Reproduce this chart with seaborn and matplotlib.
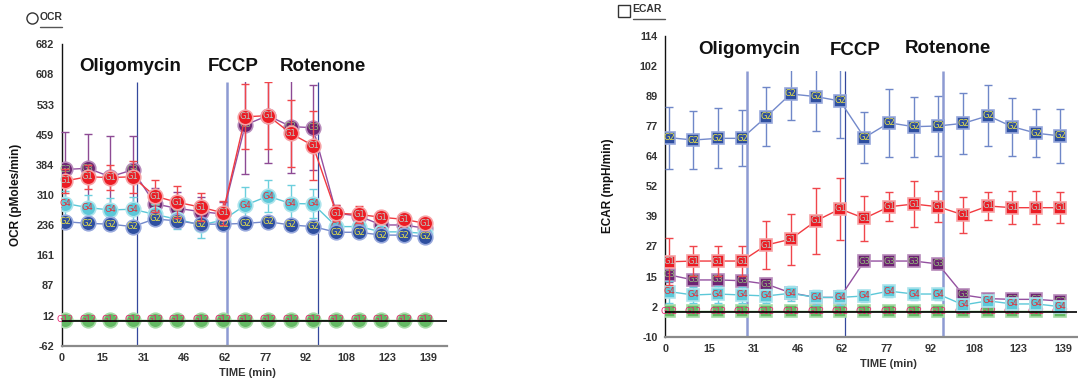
import numpy as np
import pandas as pd
import matplotlib
matplotlib.use("Agg")
import matplotlib.pyplot as plt
from matplotlib.patches import Rectangle
from matplotlib.lines import Line2D
import seaborn as sns

# measurement times (min), shared by both panels
time = [1.3, 9.8, 18.3, 26.8, 35.3, 43.8, 52.7, 61.1, 69.6, 78.2, 86.9, 95.3,
        104.2, 112.8, 121.3, 129.7, 138.0]
injections = ["Oligomycin", "FCCP", "Rotenone"]
injection_times = [28.6, 62.8, 97.2]

x_ticks = [0, 15, 31, 46, 62, 77, 92, 108, 123, 139]
ocr_ticks = [-62, 12, 87, 161, 236, 310, 384, 459, 533, 608, 682]
ecar_ticks = [-10, 2, 15, 27, 39, 52, 64, 77, 89, 102, 114]

groups = ["G12", "G3", "G4", "G2", "G1"]

# OCR (pMoles/min)
ocr_g1 = [345, 355, 353, 355, 307, 292, 280, 266, 503, 506, 462, 432, 265, 262, 255, 250, 240]
ocr_g2 = [244, 240, 238, 232, 251, 246, 238, 238, 240, 244, 236, 232, 218, 218, 211, 211, 207]
ocr_g3 = [373, 376, 355, 372, 288, 277, 269, 263, 483, 506, 479, 476, 265, 258, 236, 236, 228]
ocr_g4 = [289, 279, 273, 275, 262, 250, 236, 248, 285, 307, 289, 288, 232, 232, 219, 219, 215]
ocr_g12 = [2, 2, 2, 2, 2, 2, 2, 2, 2, 2, 2, 2, 2, 2, 2, 2, 2]
ocr_g1_err = [30, 30, 30, 40, 40, 40, 35, 30, 80, 83, 82, 85, 20, 20, 15, 12, 10]
ocr_g2_err = [15, 15, 14, 15, 12, 12, 12, 12, 14, 14, 13, 13, 10, 10, 10, 10, 10]
ocr_g3_err = [93, 85, 100, 83, 40, 40, 35, 30, 122, 118, 115, 105, 20, 18, 15, 15, 15]
ocr_g4_err = [30, 30, 30, 30, 25, 25, 32, 25, 45, 40, 45, 36, 12, 12, 10, 10, 10]
ocr_g12_err = [3] * 17

# ECAR (mpH/min)
ecar_g1 = [20.9, 21.2, 21.2, 21.2, 27.8, 30.2, 37.8, 42.7, 38.8, 43.6, 44.7, 43.6, 40.2, 43.9, 43.2, 43.2, 43.2]
ecar_g2 = [72.1, 71.1, 71.8, 71.8, 80.7, 90.1, 89.0, 87.2, 72.1, 78.2, 76.6, 76.9, 78.0, 81.1, 76.6, 73.9, 72.8]
ecar_g3 = [15.5, 13.4, 13.4, 13.1, 11.7, 8.1, 6.2, 6.2, 21.2, 21.2, 21.2, 20.0, 7.2, 5.7, 5.4, 5.4, 4.7]
ecar_g4 = [8.6, 7.2, 7.6, 7.2, 6.8, 7.9, 6.2, 6.2, 6.8, 8.8, 7.6, 7.6, 3.1, 4.8, 3.5, 3.5, 2.4]
ecar_g12 = [0.4] * 17
ecar_g1_err = [9.7, 6.3, 6.3, 6.0, 9.8, 10.6, 13.5, 12.9, 9.3, 6.0, 9.5, 6.4, 7.4, 5.9, 6.9, 6.8, 6.5]
ecar_g2_err = [12.8, 12.0, 12.4, 11.6, 12.2, 10.6, 14.0, 15.4, 10.5, 14.0, 12.4, 12.3, 12.5, 12.5, 12.0, 10.0, 11.0]
ecar_g3_err = [3, 2.5, 2.5, 2.5, 2.5, 2.5, 2.5, 2.5, 2, 2, 2, 2, 1.5, 1.5, 1.5, 1.5, 1.5]
ecar_g4_err = [4.5, 3.5, 3.5, 3.5, 3, 3, 3, 3, 2.5, 2.5, 2.5, 2.5, 2, 2, 2, 2, 2]
ecar_g12_err = [1] * 17

styles = {
    "G1": dict(fill="#ec1c24", edge="#f6a3a6", line="#f23a40", err="#f0464c", text="#b7c9c3"),
    "G2": dict(fill="#2e4f9f", edge="#97a8dc", line="#7389cb", err="#6f87c8", text="#e8e24a"),
    "G3": dict(fill="#6d2472", edge="#b88cbb", line="#9450a0", err="#8d4a94", text="#95bb7c"),
    "G4": dict(fill="#5cc8d8", edge="#aee4ec", line="#5cc8d8", err="#6ccfdd", text="#e2303a"),
    "G12": dict(fill="#64b964", edge="#a6dba6", line="#64b964", err="#64b964", text="#e8206e"),
}

W, H = 1078, 383


def to_frame(values, errors):
    rows = []
    for g in groups:
        for t, v, e in zip(time, values[g], errors[g]):
            rows.append({"time": t, "value": v, "err": e, "group": g})
    return pd.DataFrame(rows)


def draw_panel(ax, df, marker, ticks, ylim, xmax, clip_top, light_lines):
    ax.set_xlim(0, xmax)
    ax.set_ylim(*ylim)
    clip = Rectangle((-10, ylim[0] - 100), xmax + 20, clip_top - ylim[0] + 100,
                     transform=ax.transData)

    for t, lt in zip(injection_times, light_lines):
        ax.vlines(t, ylim[0], clip_top, color="#8d9bd2" if lt else "#34489c",
                  lw=1.8 if lt else 0.9, zorder=1)

    for z, g in enumerate(groups):
        st = styles[g]
        sub = df[df["group"] == g]
        eb = ax.errorbar(sub["time"], sub["value"], yerr=sub["err"], fmt="none",
                         ecolor=st["err"], elinewidth=1.0, capsize=2.8, capthick=1.0,
                         zorder=2 + 2 * z)
        for art in list(eb.lines[1]) + list(eb.lines[2]):
            art.set_clip_path(clip)
        sns.lineplot(data=sub, x="time", y="value", ax=ax, color=st["line"], lw=1.0,
                     marker=marker, markersize=9.2 if marker == "s" else 10.5,
                     markerfacecolor=st["fill"], markeredgecolor=st["edge"],
                     markeredgewidth=1.2, zorder=3 + 2 * z, legend=False,
                     errorbar=None, sort=False)
        for t, v in zip(sub["time"], sub["value"]):
            ax.text(t, v, g, color=st["text"], fontsize=6, ha="center", va="center",
                    zorder=3 + 2 * z, family="DejaVu Sans")

    ax.axhline(0, color="black", lw=1.2, zorder=30)

    ax.set_xticks(np.linspace(0, 139, len(x_ticks)))
    ax.set_xticklabels([str(v) for v in x_ticks])
    ax.set_yticks(np.linspace(ticks[0], ticks[-1], len(ticks)))
    ax.set_yticklabels([str(v) for v in ticks])
    ax.tick_params(axis="both", length=3.5, width=1, color="#777777", labelsize=7.8,
                   labelcolor="#333333", pad=2)
    for lab in ax.get_xticklabels() + ax.get_yticklabels():
        lab.set_fontweight("bold")
    sns.despine(ax=ax)
    ax.spines["left"].set_color("#111111")
    ax.spines["left"].set_linewidth(1.0)
    ax.spines["bottom"].set_color("#8a8a8a")
    ax.spines["bottom"].set_linewidth(1.6)
    ax.set_xlabel("")
    ax.set_ylabel("")


sns.set_theme(style="white")
plt.rcParams["font.family"] = ["Liberation Sans", "DejaVu Sans"]

fig = plt.figure(figsize=(W / 100, H / 100), dpi=100)
fig.patch.set_facecolor("white")


def frac(x0, y0, x1, y1):
    return [x0 / W, 1 - y1 / H, (x1 - x0) / W, (y1 - y0) / H]


ax1 = fig.add_axes(frac(62, 44.3, 447, 345.7))
ax2 = fig.add_axes(frac(665.3, 36, 1077, 336.7))

ocr_df = to_frame(
    {"G1": ocr_g1, "G2": ocr_g2, "G3": ocr_g3, "G4": ocr_g4, "G12": ocr_g12},
    {"G1": ocr_g1_err, "G2": ocr_g2_err, "G3": ocr_g3_err, "G4": ocr_g4_err, "G12": ocr_g12_err})
ecar_df = to_frame(
    {"G1": ecar_g1, "G2": ecar_g2, "G3": ecar_g3, "G4": ecar_g4, "G12": ecar_g12},
    {"G1": ecar_g1_err, "G2": ecar_g2_err, "G3": ecar_g3_err, "G4": ecar_g4_err, "G12": ecar_g12_err})

draw_panel(ax1, ocr_df, "o", ocr_ticks, (-62, 682), 146.2, 590, [False, True, False])
draw_panel(ax2, ecar_df, "s", ecar_ticks, (-10, 114), 143.9, 99.4, [True, False, True])

# injection labels
for (label, x, y) in zip(injections, [79, 207.5, 280], [71, 71, 71]):
    fig.text(x / W, 1 - y / H, label, fontsize=13.5, fontweight="bold", color="#111111",
             ha="left", va="baseline")
for (label, x, y) in zip(injections, [698.3, 829.3, 904.3], [54.3, 55, 52.7]):
    fig.text(x / W, 1 - y / H, label, fontsize=13.5, fontweight="bold", color="#111111",
             ha="left", va="baseline")

# axis labels
fig.text(16.5 / W, 1 - 195 / H, "OCR (pMoles/min)", rotation=90, fontsize=8.5,
         fontweight="bold", ha="center", va="center", color="#111111")
fig.text(608 / W, 1 - 186 / H, "ECAR (mpH/min)", rotation=90, fontsize=8.5,
         fontweight="bold", ha="center", va="center", color="#111111")
fig.text(247 / W, 1 - 373 / H, "TIME (min)", fontsize=8, fontweight="bold",
         ha="center", va="center", color="#333333")
fig.text(888 / W, 1 - 364 / H, "TIME (min)", fontsize=8, fontweight="bold",
         ha="center", va="center", color="#333333")

# panel titles with icons
fig.add_artist(Line2D([31.5 / W], [1 - 17.5 / H], marker="o", markersize=8,
                      markerfacecolor="white", markeredgecolor="#333333",
                      markeredgewidth=1.0, linestyle="none"))
fig.text(40 / W, 1 - 17 / H, "OCR", fontsize=7.5, fontweight="bold", color="#333333",
         ha="left", va="center")
fig.add_artist(Line2D([40 / W, 62 / W], [1 - 26.5 / H, 1 - 26.5 / H], color="#555555", lw=1))
fig.add_artist(Line2D([623.5 / W], [1 - 11 / H], marker="s", markersize=8,
                      markerfacecolor="white", markeredgecolor="#333333",
                      markeredgewidth=1.0, linestyle="none"))
fig.text(632.5 / W, 1 - 9.5 / H, "ECAR", fontsize=7.5, fontweight="bold", color="#333333",
         ha="left", va="center")
fig.add_artist(Line2D([633 / W, 665 / W], [1 - 19 / H, 1 - 19 / H], color="#555555", lw=1))

fig.savefig("out.png", dpi=100, facecolor="white")
